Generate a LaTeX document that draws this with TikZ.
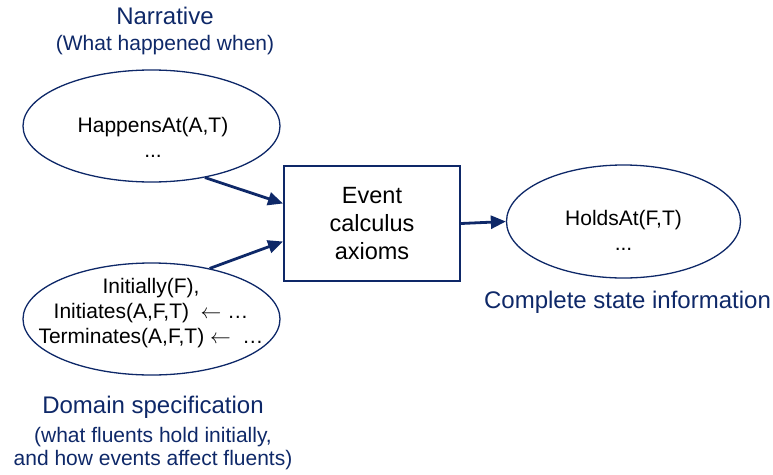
\documentclass[tikz,border=0pt]{standalone}
\usepackage{fontspec}
\setmainfont{Liberation Sans}
\usepackage{tikz}
\usetikzlibrary{arrows.meta,shapes.geometric}

\definecolor{navy}{RGB}{14,40,104}
\tikzset{
  blob/.style={ellipse,draw=navy,line width=1.3pt,inner sep=0pt,
    minimum width=257pt,minimum height=112pt},
  blobtext/.style={anchor=base,align=center,inner sep=0pt,font=\fontsize{21}{25}\selectfont},
  axbox/.style={rectangle,draw=navy,line width=2pt,align=center,
    minimum width=176pt,minimum height=115pt,font=\fontsize{23.5}{28}\selectfont},
  caption/.style={text=navy,anchor=base,inner sep=0pt,font=\fontsize{24}{28}\selectfont},
  subcap/.style={text=navy,anchor=base,align=center,inner sep=0pt,font=\fontsize{21}{23}\selectfont},
  feed/.style={draw=navy,line width=2.8pt,-{Triangle[length=15pt,width=13pt]}}
}

\begin{document}
\begin{tikzpicture}[x=1pt,y=-1pt]
			\useasboundingbox (0,0) rectangle (773,474);
			% inputs
			\node[blob] (narr) at (151.5,126) {};
			\node[blobtext] (narrtxt) at (153,157) {HappensAt(A,T)\\...};
			\node[blob] (dom) at (151.5,319) {};
			\node[blobtext] (domtxt) at (151,343) {Initially(F),\\Initiates(A,F,T) \ $\leftarrow$ …\\Terminates(A,F,T) $\leftarrow$ \ …};
			% axioms and output
			\node[axbox] (calc) at (372,223.5) {Event\\calculus\\axioms};
			\node[blob,minimum width=234pt,minimum height=113pt] (holds) at (623.5,221.5) {};
			\node[blobtext] (holdstxt) at (623.5,250) {HoldsAt(F,T)\\...};
			\draw[feed] (narr.-44) -- ([yshift=20pt]calc.west);
			\draw[feed] (dom.41) -- ([yshift=-18pt]calc.west);
			\draw[feed] (calc.east) -- (holds.west);
			% captions
			\node[caption] (narrcap) at (165,24) {Narrative};
			\node[subcap] (narrsub) at (165,50) {(What happened when)};
			\node[caption] (holdscap) at (627.5,308) {Complete state information};
			\node[caption] (domcap) at (153,413) {Domain specification};
			\node[subcap] (domsub) at (153,465) {(what fluents hold initially,\\and how events affect fluents)};
		\end{tikzpicture}
\end{document}
